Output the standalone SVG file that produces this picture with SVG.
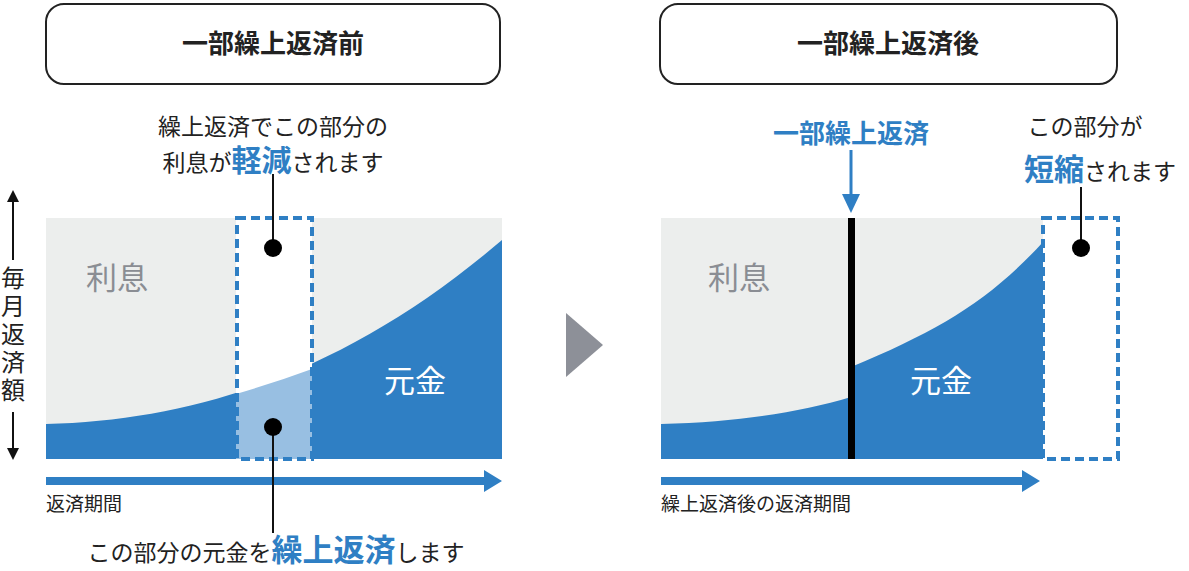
<svg xmlns="http://www.w3.org/2000/svg" width="1189" height="571" viewBox="0 0 1189 571">
<style>
text{font-family:"Noto Sans CJK JP","Noto Sans",sans-serif;fill:#222}
.t{font-size:26px;font-weight:bold;text-anchor:middle}
.c{font-size:23px;text-anchor:middle}
.b{fill:#2f7fc4;font-weight:bold}
.g{fill:#eceeed}
.p{fill:#2f7fc4}
.d{fill:none;stroke:#2f7fc4;stroke-width:4;stroke-dasharray:9 5}
.l{stroke:#111;stroke-width:2}
</style>
<defs>
<marker id="bk" viewBox="0 0 10 10" refX="5" refY="5" markerWidth="6" markerHeight="6" orient="auto-start-reverse"><path d="M0,0L10,5L0,10z" fill="#111"/></marker>
</defs>
<g id="title-left"><rect x="46" y="4" width="454" height="80" rx="18" fill="#fff" stroke="#222" stroke-width="2"/><text class="t" x="273" y="53">一部繰上返済前</text></g>
<g id="title-right"><rect x="660" y="4" width="457" height="80" rx="18" fill="#fff" stroke="#222" stroke-width="2"/><text class="t" x="888" y="53">一部繰上返済後</text></g>
<g id="chart-left">
<rect class="g" x="46" y="218" width="456" height="241"/>
<path class="p" d="M46,424 C200,420 350,370 502,240 L502,459 L46,459Z"/>
<rect x="236" y="218" width="76" height="241" fill="#fff"/>
<path d="M236,394 Q274,383 312,369 L312,459 L236,459Z" fill="#98bfe2"/>
<rect class="d" x="237" y="218" width="75" height="241"/>
<text x="86" y="289" font-size="31" style="fill:#8a8d93">利息</text>
<text x="384" y="392" font-size="31" style="fill:#fff">元金</text>
</g>
<g id="chart-right">
<rect class="g" x="661" y="218" width="382" height="241"/>
<path class="p" d="M661,424 C740,422 800,412 851,397 L851,367 C940,330 990,300 1043,242 L1043,459 L661,459Z"/>
<rect x="848" y="218" width="7" height="241" fill="#000"/>
<rect class="d" x="1043" y="218" width="75" height="241"/>
<text x="708" y="289" font-size="31" style="fill:#8a8d93">利息</text>
<text x="910" y="392" font-size="31" style="fill:#fff">元金</text>
</g>
<g id="yaxis">
<line class="l" x1="13" y1="260" x2="13" y2="196" marker-end="url(#bk)"/>
<line class="l" x1="13" y1="412" x2="13" y2="454" marker-end="url(#bk)"/>
<text x="13" y="266" font-size="24" writing-mode="tb" letter-spacing="4">毎月返済額</text>
</g>
<g id="connectors">
<path class="p" d="M46,477 H484 V470 L502,481 L484,492 V485 H46Z"/>
<path class="p" d="M661,477 H1022 V470 L1040,481 L1022,492 V485 H661Z"/>
<line class="l" x1="273" y1="174" x2="273" y2="248"/><circle cx="273" cy="248" r="9" fill="#000"/>
<line class="l" x1="273" y1="427" x2="273" y2="533"/><circle cx="273" cy="427" r="9" fill="#000"/>
<line class="l" x1="1081" y1="187" x2="1081" y2="248"/><circle cx="1081" cy="248" r="9" fill="#000"/>
<line x1="851" y1="150" x2="851" y2="196" stroke="#2f7fc4" stroke-width="3"/><path class="p" d="M842,194 L860,194 L851,213Z"/>
<path d="M566,313 L603,345 L566,377Z" fill="#8d9098"/>
</g>
<g id="labels">
<text class="c" x="273" y="135">繰上返済でこの部分の</text>
<text class="c" x="273" y="171">利息が<tspan class="b" font-size="30">軽減</tspan>されます</text>
<text class="c" x="276" y="561" font-size="24">この部分の元金を<tspan class="b" font-size="31">繰上返済</tspan>します</text>
<text class="t b" x="851" y="143" font-size="27">一部繰上返済</text>
<text class="c" x="1085" y="135">この部分が</text>
<text class="c" x="1100" y="180"><tspan class="b" font-size="30">短縮</tspan>されます</text>
<text x="46" y="511" font-size="19">返済期間</text>
<text x="661" y="511" font-size="19">繰上返済後の返済期間</text>
</g>
</svg>
